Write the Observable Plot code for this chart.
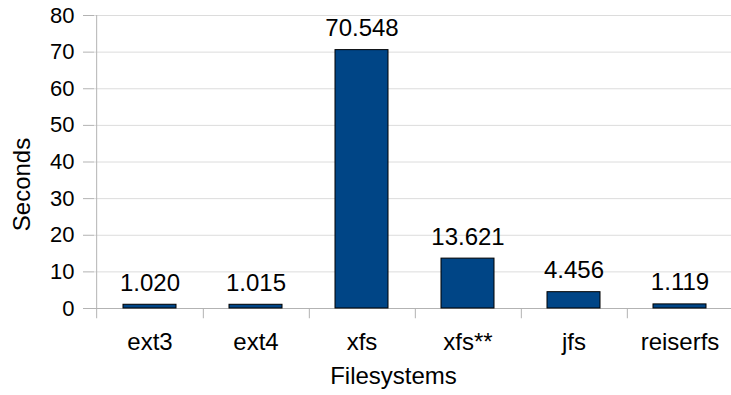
<!DOCTYPE html>
<html>
<head>
<meta charset="utf-8">
<script src="https://cdn.jsdelivr.net/npm/d3@7"></script>
<script src="https://cdn.jsdelivr.net/npm/@observablehq/plot@0.6"></script>
<style>
  html, body { margin: 0; padding: 0; background: #fff; }
  #chart svg { display: block; }
</style>
</head>
<body>
<div id="chart"></div>
<script>
const categories = ["ext3", "ext4", "xfs", "xfs**", "jfs", "reiserfs"];
const seconds = [1.020, 1.015, 70.548, 13.621, 4.456, 1.119];
const yTicks = [0, 10, 20, 30, 40, 50, 60, 70, 80];
const yTitle = "Seconds";
const xTitle = "Filesystems";

const data = categories.map((c, i) => ({fs: c, s: seconds[i]}));

const W = 731, H = 395;
const mL = 94, mR = -3, mT = 15, mB = 87;
const step = (W - mL - mR) / categories.length;
const font = "'Liberation Sans', Arial, sans-serif";
const fmt = d3.format(".3f");

const chart = Plot.plot({
  width: W,
  height: H,
  marginLeft: mL,
  marginRight: mR,
  marginTop: mT,
  marginBottom: mB,
  style: {fontFamily: font, background: "#fff", color: "#000"},
  x: {type: "band", domain: categories, paddingInner: 0.5, paddingOuter: 0.25, label: null},
  y: {domain: [0, 80], label: null},
  marks: [
    Plot.gridY(yTicks, {stroke: "#dcdcdc", strokeOpacity: 1}),
    Plot.axisY(yTicks, {tickSize: 11, tickPadding: 9, fontSize: 22, stroke: "#b3b3b3", label: null}),
    Plot.axisX({tickSize: 0, tickPadding: 24, fontSize: 24, label: null}),
    Plot.ruleY([0], {stroke: "#b3b3b3"}),
    Plot.ruleX(categories, {x: d => d, dx: -step / 2, y1: -2.8, y2: 80, stroke: "#b3b3b3", filter: (d, i) => i === 0}),
    Plot.ruleX(categories, {x: d => d, dx: step / 2, y1: -2.8, y2: 0, stroke: "#b3b3b3"}),
    Plot.barY(data, {x: "fs", y: "s", fill: "#004586", stroke: "#000", strokeWidth: 1}),
    Plot.text(data, {x: "fs", y: "s", text: d => fmt(d.s), lineAnchor: "bottom", dy: -14, fontSize: 24, fill: "#000"}),
    Plot.text([yTitle], {frameAnchor: "left", textAnchor: "middle", lineAnchor: "middle", rotate: -90, dx: -72, dy: 22.5, fontSize: 24, fill: "#000"}),
    Plot.text([xTitle], {frameAnchor: "bottom", textAnchor: "middle", lineAnchor: "middle", dx: -21, dy: 68, fontSize: 24, fill: "#000"})
  ]
});
document.getElementById("chart").appendChild(chart);
</script>
</body>
</html>
